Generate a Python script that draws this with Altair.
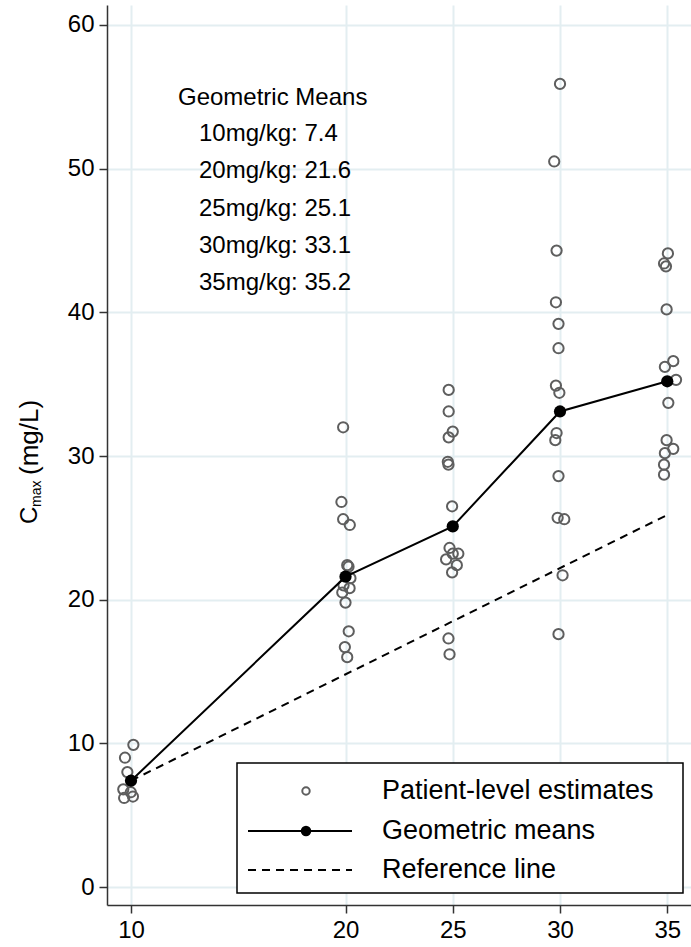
import altair as alt
import pandas as pd

# ---- data ----
doses = [10, 20, 25, 30, 35]
mean_cmax = [7.4, 21.6, 25.1, 33.1, 35.2]

# patient-level estimates (dose position includes the small horizontal jitter seen in the picture)
pt_dose = (
    [10.11, 9.72, 9.83, 9.64, 9.99, 9.68, 10.09]
    + [19.89, 19.81, 19.89, 20.20, 20.08, 20.14, 20.23, 19.91, 20.19, 19.85, 20.00, 20.15, 19.97, 20.08]
    + [24.81, 24.81, 25.00, 24.81, 24.77, 24.80, 24.97, 24.85, 25.00, 25.26, 24.69, 25.19, 24.97, 24.80, 24.85]
    + [30.00, 29.73, 29.84, 29.81, 29.93, 29.93, 29.81, 29.97, 29.84, 29.78, 29.93, 29.89, 30.20, 30.12, 29.93]
    + [35.03, 34.85, 34.94, 34.97, 34.89, 35.28, 35.41, 35.05, 34.97, 35.28, 34.89, 34.85, 34.85]
)
pt_cmax = (
    [9.9, 9.0, 8.0, 6.8, 6.6, 6.2, 6.3]
    + [32.0, 26.8, 25.6, 25.2, 22.4, 22.3, 21.5, 21.0, 20.8, 20.5, 19.8, 17.8, 16.7, 16.0]
    + [34.6, 33.1, 31.7, 31.3, 29.6, 29.4, 26.5, 23.6, 23.2, 23.2, 22.8, 22.4, 21.9, 17.3, 16.2]
    + [55.9, 50.5, 44.3, 40.7, 39.2, 37.5, 34.9, 34.4, 31.6, 31.1, 28.6, 25.7, 25.6, 21.7, 17.6]
    + [44.1, 43.4, 43.2, 40.2, 36.2, 36.6, 35.3, 33.7, 31.1, 30.5, 30.2, 29.4, 28.7]
)
ref_dose = [10, 35]
ref_cmax = [7.4, 25.9]

y_ticks = [0, 10, 20, 30, 40, 50, 60]
annot_title = "Geometric Means"
annot_lines = ["10mg/kg: 7.4", "20mg/kg: 21.6", "25mg/kg: 25.1", "30mg/kg: 33.1", "35mg/kg: 35.2"]
legend_labels = ["Patient-level estimates", "Geometric means", "Reference line"]

FONT = "Liberation Sans"

pts = pd.DataFrame({"dose": pt_dose, "cmax": pt_cmax})
means = pd.DataFrame({"dose": doses, "cmax": mean_cmax})
ref = pd.DataFrame({"dose": ref_dose, "cmax": ref_cmax})

xscale = alt.Scale(domain=[8.881, 36.107], nice=False, zero=False)
yscale = alt.Scale(domain=[-1.25, 61.39], nice=False, zero=False)

X = alt.X("dose:Q", scale=xscale, title=None,
          axis=alt.Axis(values=doses, format="d"))
Y = alt.Y("cmax:Q", scale=yscale, title=None,
          axis=alt.Axis(values=y_ticks, format="d"))

points = alt.Chart(pts).mark_point(
    shape="circle", filled=False, size=105, strokeWidth=2, color="#5e5e5e", opacity=1
).encode(x=X, y=Y)

ref_line = alt.Chart(ref).mark_line(
    color="black", strokeWidth=2, strokeDash=[8, 6]
).encode(x=X, y=Y)

mean_line = alt.Chart(means).mark_line(color="black", strokeWidth=2).encode(x=X, y=Y)
mean_pts = alt.Chart(means).mark_point(
    shape="circle", filled=True, size=150, color="black", opacity=1
).encode(x=X, y=Y)

one = pd.DataFrame({"k": [0]})

# annotation block
annot_layers = [
    alt.Chart(pd.DataFrame({"t": [annot_title]})).mark_text(
        font=FONT, fontSize=24, align="left", baseline="middle", color="black"
    ).encode(x=alt.value(71), y=alt.value(93), text="t:N")
]
for i, line in enumerate(annot_lines):
    annot_layers.append(
        alt.Chart(pd.DataFrame({"t": [line]})).mark_text(
            font=FONT, fontSize=24, align="left", baseline="middle", color="black"
        ).encode(x=alt.value(92), y=alt.value(129 + 37.3 * i), text="t:N")
    )

# legend box
leg_box = alt.Chart(one).mark_rect(fill="white", stroke="black", strokeWidth=1.5).encode(
    x=alt.value(130), x2=alt.value(576), y=alt.value(758), y2=alt.value(888)
)
leg_pt = alt.Chart(one).mark_point(
    shape="circle", filled=False, size=55, strokeWidth=2, color="#5e5e5e", opacity=1
).encode(x=alt.value(199), y=alt.value(786))
leg_line = alt.Chart(one).mark_rule(color="black", strokeWidth=2).encode(
    x=alt.value(141), x2=alt.value(245), y=alt.value(826)
)
leg_dot = alt.Chart(one).mark_point(
    shape="circle", filled=True, size=110, color="black", opacity=1
).encode(x=alt.value(199), y=alt.value(826))
leg_dash = alt.Chart(one).mark_rule(color="black", strokeWidth=2, strokeDash=[8, 6]).encode(
    x=alt.value(141), x2=alt.value(245), y=alt.value(865)
)
leg_texts = [
    alt.Chart(pd.DataFrame({"t": [lab]})).mark_text(
        font=FONT, fontSize=27, align="left", baseline="middle", color="black"
    ).encode(x=alt.value(275), y=alt.value(yy), text="t:N")
    for lab, yy in zip(legend_labels, [786, 826, 865])
]

# y-axis title: C with subscript "max", then (mg/L), rotated
ytitle = [
    alt.Chart(pd.DataFrame({"t": ["C"]})).mark_text(
        font=FONT, fontSize=24, angle=270, align="left", baseline="middle", color="black"
    ).encode(x=alt.value(-77), y=alt.value(519), text="t:N"),
    alt.Chart(pd.DataFrame({"t": ["max"]})).mark_text(
        font=FONT, fontSize=14, angle=270, align="left", baseline="middle", color="black"
    ).encode(x=alt.value(-70), y=alt.value(502), text="t:N"),
    alt.Chart(pd.DataFrame({"t": ["(mg/L)"]})).mark_text(
        font=FONT, fontSize=26, angle=270, align="left", baseline="middle", color="black"
    ).encode(x=alt.value(-77), y=alt.value(470), text="t:N"),
]

chart = alt.layer(
    points, ref_line, mean_line, mean_pts,
    *annot_layers,
    leg_box, leg_pt, leg_line, leg_dot, leg_dash, *leg_texts,
    *ytitle,
).properties(
    width=584, height=900,
    autosize=alt.AutoSizeParams(type="none"),
    padding={"left": 107, "top": 5, "right": 0, "bottom": 42},
    background="white",
).configure_axis(
    labelFont=FONT, labelFontSize=24, labelColor="black",
    domainColor="#333333", domainWidth=1.5,
    tickColor="#333333", tickWidth=1.5, tickSize=8,
    grid=True, gridColor="#e3eef1", gridWidth=2,
    labelPadding=5,
).configure_view(strokeWidth=0)

chart.save("out.html", embed_options={"renderer": "svg", "actions": False})
